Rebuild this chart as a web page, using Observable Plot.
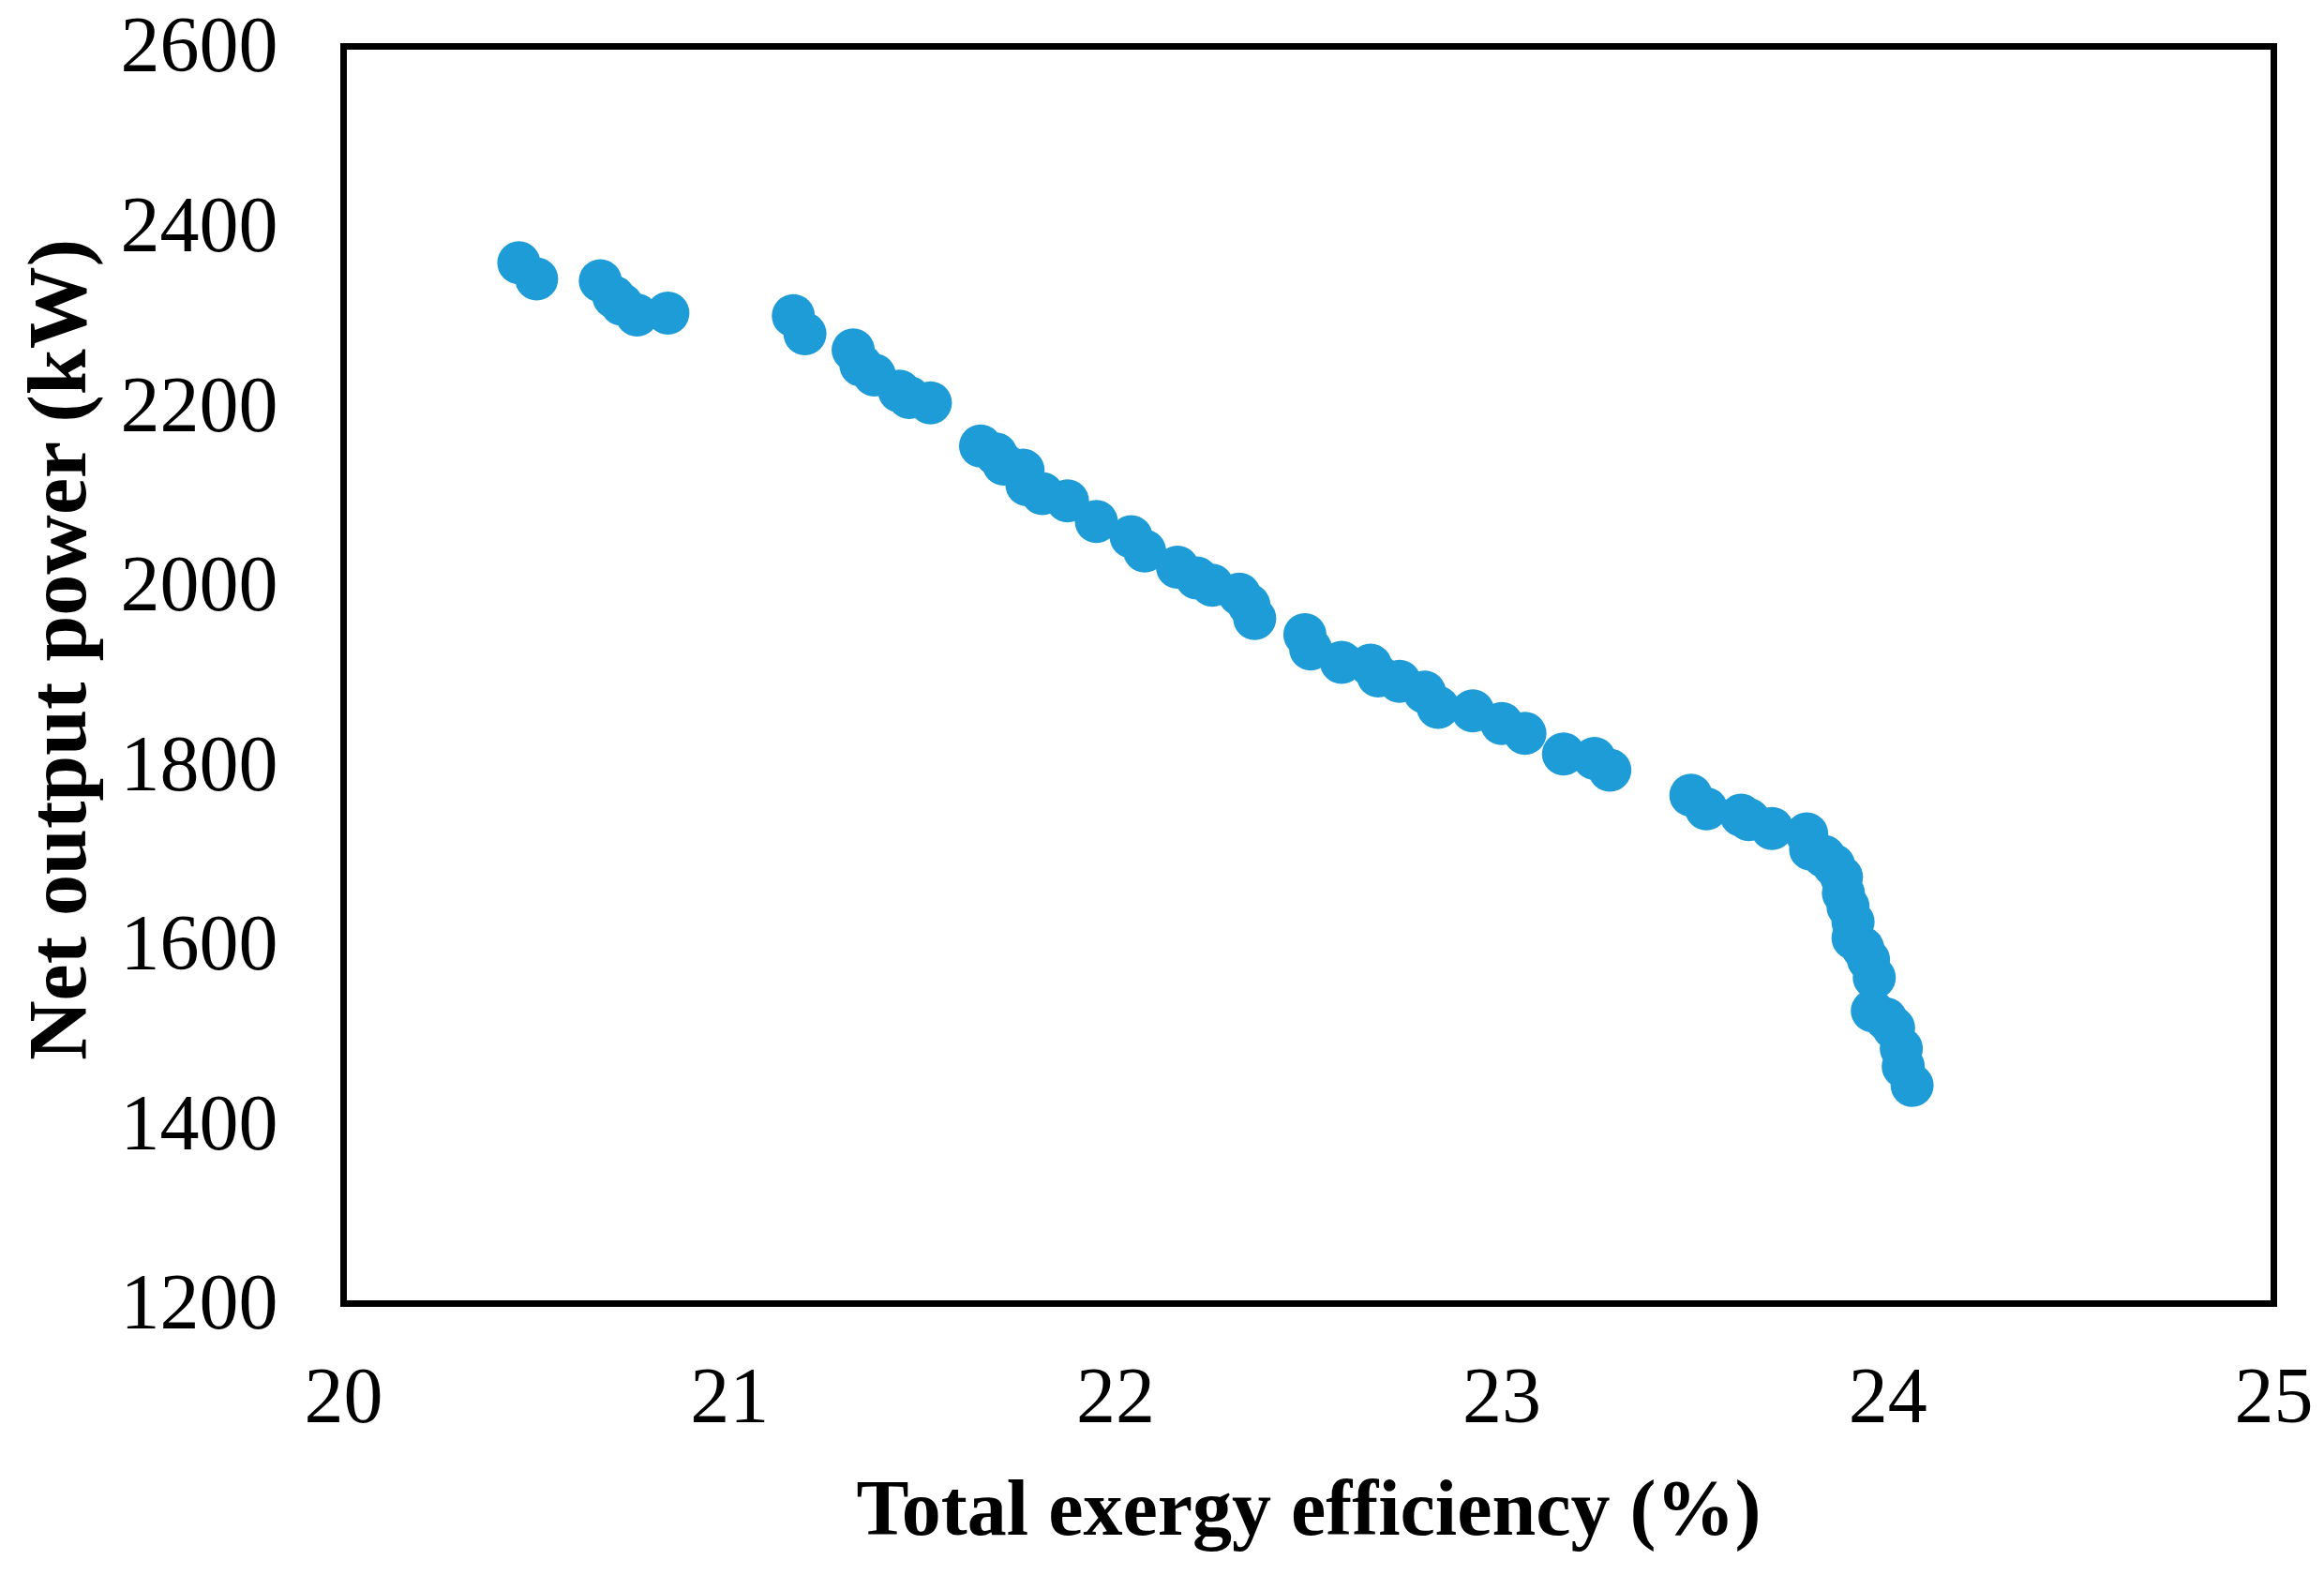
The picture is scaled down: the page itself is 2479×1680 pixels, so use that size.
<!DOCTYPE html>
<html>
<head>
<meta charset="utf-8">
<script src="https://cdn.jsdelivr.net/npm/d3@7"></script>
<script src="https://cdn.jsdelivr.net/npm/@observablehq/plot@0.6"></script>
<style>
  html, body { margin: 0; padding: 0; background: #fff; }
</style>
</head>
<body>
<div id="chart"></div>
<script>
const efficiency = [
  20.454, 20.50, 20.665, 20.70, 20.72, 20.76, 20.84,
  21.165, 21.195, 21.32, 21.34, 21.375, 21.44, 21.465, 21.52,
  21.65, 21.69, 21.71, 21.76, 21.77, 21.81, 21.875, 21.95,
  22.04, 22.075, 22.16, 22.21, 22.25, 22.32, 22.345, 22.36,
  22.49, 22.505, 22.585, 22.66, 22.68, 22.735, 22.80, 22.835, 22.925,
  23.0, 23.06, 23.16, 23.24, 23.28,
  23.49, 23.53, 23.62, 23.64, 23.70, 23.79, 23.80, 23.835, 23.86, 23.88,
  23.885, 23.897, 23.91, 23.91, 23.935, 23.95, 23.965, 23.96, 23.995,
  24.015, 24.035, 24.04, 24.063
];
const netPower = [
  2359, 2341, 2339, 2321, 2313, 2301, 2303,
  2300, 2280, 2262, 2245, 2234, 2216, 2209, 2203,
  2155, 2146, 2135, 2128, 2112, 2102, 2094, 2071,
  2054, 2038, 2020, 2008, 2000, 1990, 1978, 1963,
  1945, 1929, 1914, 1911, 1899, 1893, 1881, 1864, 1860,
  1846, 1835, 1812, 1807, 1794,
  1766, 1751, 1744, 1739, 1729, 1723, 1706, 1698, 1688, 1675,
  1657, 1642, 1625, 1607, 1596, 1583, 1563, 1526, 1517,
  1507, 1484, 1464, 1443
];
const xTicks = [20, 21, 22, 23, 24, 25];
const yTicks = [1200, 1400, 1600, 1800, 2000, 2200, 2400, 2600];
const xTitle = "Total exergy efficiency (%)";
const yTitle = "Net output power (kW)";

const points = efficiency.map((e, i) => ({eff: e, power: netPower[i]}));

const chart = Plot.plot({
  width: 2479,
  height: 1680,
  marginLeft: 366,
  marginRight: 54,
  marginTop: 49,
  marginBottom: 290,
  style: {fontFamily: "'Liberation Serif', 'Times New Roman', serif", background: "#fff", color: "#000"},
  x: {domain: [20, 25], axis: null},
  y: {domain: [1200, 2600], axis: null},
  marks: [
    Plot.dot(points, {x: "eff", y: "power", r: 23, fill: "#1e9cd8", stroke: "none"}),
    Plot.frame({stroke: "#000", strokeWidth: 7}),
    Plot.axisX({ticks: xTicks, tickSize: 0, tickPadding: 67, fontSize: 84, label: null, tickFormat: d => String(d)}),
    Plot.axisY({ticks: yTicks, tickSize: 0, tickPadding: 70, fontSize: 84, label: null, tickFormat: d => String(d)}),
    Plot.text([xTitle], {text: d => d, frameAnchor: "bottom", dy: 220, fontSize: 84, fontWeight: "bold", lineAnchor: "middle", textAnchor: "middle"}),
    Plot.text([yTitle], {text: d => d, frameAnchor: "left", dx: -304, dy: -27, rotate: -90, fontSize: 88, fontWeight: "bold", lineAnchor: "middle", textAnchor: "middle"})
  ]
});
document.getElementById("chart").appendChild(chart);
</script>
</body>
</html>
